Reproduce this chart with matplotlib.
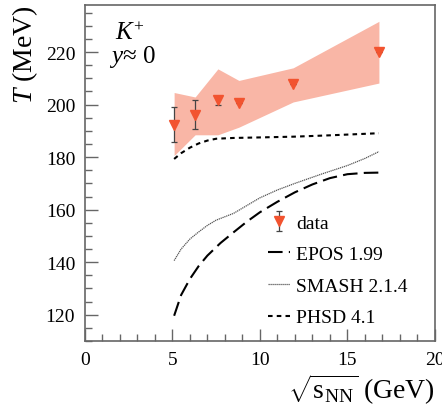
import numpy as np
import matplotlib
import matplotlib.pyplot as plt

matplotlib.use("agg")

plt.rcParams["font.family"] = ["Liberation Serif", "DejaVu Serif"]
plt.rcParams["mathtext.fontset"] = "custom"
plt.rcParams["mathtext.rm"] = "Liberation Serif"
plt.rcParams["mathtext.it"] = "Liberation Serif:italic"

# K+ inverse slope parameter at mid-rapidity
data_x = [5.1, 6.3, 7.6, 8.8, 11.9, 16.8]
data_t = [192.4, 196.2, 201.6, 200.7, 207.9, 220.2]
data_err = [6.5, 5.4, 1.8, 0.0, 0.0, 0.0]

# systematic band
band_lo = [180.6, 188.5, 188.5, 191.4, 201.0, 208.2]
band_hi = [204.6, 202.9, 213.6, 209.2, 214.0, 231.7]

# model curves
epos_x = [5.1, 5.5, 6.0, 6.5, 7.0, 7.75, 8.5, 9.25, 10.0, 11.0, 12.0, 13.0, 14.0, 15.0, 16.0, 16.8]
epos_t = [119.6, 127.5, 133.6, 138.5, 142.5, 147.3, 151.4, 155.4, 159.0, 163.0, 166.6, 169.6, 172.0, 173.5, 174.0, 174.1]

smash_x = [5.1, 5.5, 6.0, 6.5, 7.0, 7.5, 8.5, 10.0, 11.0, 12.0, 13.5, 15.0, 16.0, 16.8]
smash_t = [140.6, 145.0, 148.8, 151.5, 154.0, 156.0, 158.6, 164.5, 167.5, 170.0, 173.5, 176.8, 179.5, 182.1]

phsd_x = [5.1, 5.5, 6.0, 6.5, 7.0, 7.5, 8.5, 10.0, 12.0, 14.0, 16.8]
phsd_t = [179.3, 181.5, 183.6, 185.2, 186.3, 187.0, 187.3, 187.5, 187.8, 188.3, 189.1]

fig = plt.figure(figsize=(4.42, 4.14), dpi=100)
ax = fig.add_axes([0.192, 0.174, 0.792, 0.812])

ax.fill_between(data_x, band_lo, band_hi, color="#f9b6a6", lw=0, zorder=1)

ax.plot(epos_x, epos_t, color="black", lw=1.5, ls=(0, (7, 3)), label="EPOS 1.99", zorder=2)
ax.plot(smash_x, smash_t, color="#555555", lw=0.9, ls=(0, (1, 0.6)), label="SMASH 2.1.4", zorder=2)
ax.plot(phsd_x, phsd_t, color="black", lw=1.5, ls=(0, (2.2, 2)), label="PHSD 4.1", zorder=2)

ax.errorbar(data_x, data_t, yerr=data_err, fmt="v", color="#f2532f", ms=7,
            ecolor="#444444", elinewidth=0.9, capsize=2.5, capthick=0.9,
            label="data", zorder=3)

ax.set_xlim(0, 20)
ax.set_ylim(110, 238)
ax.set_xticks([0, 5, 10, 15, 20])
ax.set_xticks(np.arange(0, 21, 1), minor=True)
ax.set_yticks([120, 140, 160, 180, 200, 220])
ax.set_yticks(np.arange(110, 240, 5), minor=True)

for side in ["top", "right", "left", "bottom"]:
    ax.spines[side].set_color("#666666")
    ax.spines[side].set_linewidth(1.2)

ax.tick_params(which="both", direction="in", top=False, right=False, color="#666666",
               labelsize=14, width=1.0)
ax.tick_params(which="major", length=9, pad=7)
ax.tick_params(which="minor", length=5)

ax.set_ylabel(r"$T$ (MeV)", fontsize=20, loc="top", labelpad=4)
ax.set_xlabel(r"$\sqrt{\mathrm{s}_{\mathrm{NN}}}$ (GeV)", fontsize=20, loc="right", labelpad=3)

ax.text(0.07, 0.83, " $K^{+}$\n$y$≈ 0", transform=ax.transAxes, fontsize=18,
        linespacing=0.95, va="baseline")

handles, labels = ax.get_legend_handles_labels()
order = [labels.index(n) for n in ["data", "EPOS 1.99", "SMASH 2.1.4", "PHSD 4.1"]]
ax.legend([handles[i] for i in order], [labels[i] for i in order],
          loc="lower left", bbox_to_anchor=(0.5, 0.02), frameon=False,
          fontsize=14, handlelength=1.15, handletextpad=0.3, labelspacing=0.72,
          borderaxespad=0)

fig.savefig("out.png", dpi=100)
